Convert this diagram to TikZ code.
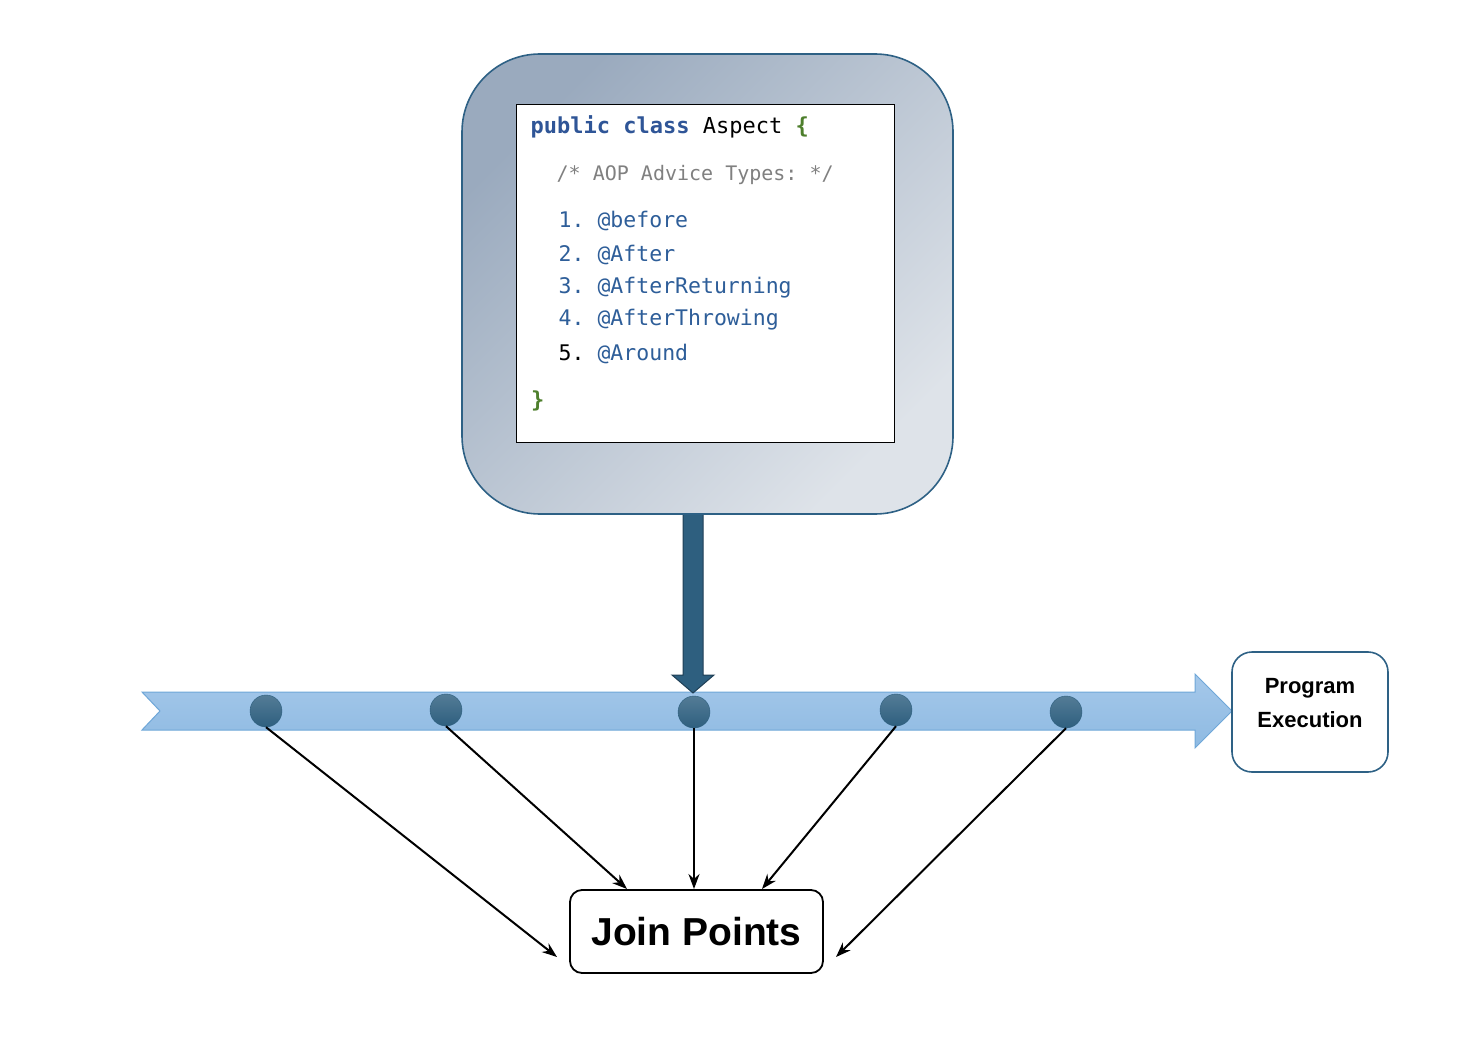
\documentclass[tikz,border=0pt]{standalone}
\usepackage{fontspec}
\setmainfont{Liberation Sans}
\setmonofont{DejaVu Sans Mono}
\usetikzlibrary{arrows.meta,positioning}

\definecolor{kwblue}{HTML}{2F5597}
\definecolor{lsblue}{HTML}{2E5E99}
\definecolor{brgreen}{HTML}{4E7F2C}
\definecolor{cmgray}{HTML}{808080}
\definecolor{navy}{HTML}{2E5F7F}
\definecolor{navyline}{HTML}{1F3F56}
\definecolor{frame}{HTML}{2E6185}
\definecolor{boxdark}{HTML}{9AAABE}
\definecolor{boxlight}{HTML}{DEE3E9}
\definecolor{bandtop}{HTML}{A5C8EA}
\definecolor{bandbot}{HTML}{8EBAE2}
\definecolor{bandline}{HTML}{6FA7D8}

\newcommand{\codesize}[1]{\fontsize{#1}{#1}\selectfont\ttfamily}

\begin{document}
\begin{tikzpicture}
	[
		x=1pt, y=-1pt,
		AB/.style = {rectangle, rounded corners=78pt, draw=frame, line width=1.6pt,
			top color=boxdark, bottom color=boxlight, shading angle=45,
			minimum width=491pt, minimum height=460pt},
		CB/.style = {rectangle, draw=black, line width=0.8pt, fill=white,
			minimum width=378pt, minimum height=338pt},
		C/.style = {anchor=base west, inner sep=0pt, font=\codesize{21.5}, text=lsblue},
		D/.style = {circle, inner sep=0pt, minimum size=32pt, draw=navy, line width=0.4pt,
			top color=navy!82!white, bottom color=navy},
		PE/.style = {rectangle, rounded corners=20pt, draw=frame, line width=1.6pt, fill=white,
			minimum width=156pt, minimum height=120pt},
		PT/.style = {align=center, inner sep=0pt, font=\fontsize{22}{34}\selectfont\bfseries},
		JP/.style = {rectangle, rounded corners=12pt, draw=black, line width=1.8pt, fill=white,
			minimum width=253pt, minimum height=83pt, font=\fontsize{39}{39}\selectfont\bfseries},
		JA/.style = {line width=2pt, -{Stealth[length=15pt,width=11pt]}},
	]

	\useasboundingbox (0,0) rectangle (1474,1040);

	% program execution band
	\shade[top color=bandtop, bottom color=bandbot, draw=bandline, line width=1pt]
		(142,692) -- (1195,692) -- (1195,674) -- (1232,711) -- (1195,748)
		-- (1195,730) -- (142,730) -- (160,711) -- cycle;

	% aspect weaving arrow
	\draw[fill=navy, draw=navyline, line width=1pt]
		(683,510) -- (683,675) -- (672,675) -- (693,693) -- (714,675) -- (703,675) -- (703,510) -- cycle;

	% aspect container
	\node[AB] (aspect) at (707.5,284) {};
	\node[CB] (code) at (705,273) {};

	% code lines
	\node[C, font=\codesize{22}, text=black] (cl0) at (530.5,134)
		{\textcolor{kwblue}{\bfseries public class} Aspect \textcolor{brgreen}{\bfseries\{}};
	\node[C, font=\codesize{20}, text=cmgray] (cm) at (556.5,181) {/* AOP Advice Types: */};
	\node[C] (cl1) at (558.5,228) {1. @before};
	\node[C] (cl2) at (558.5,262) {2. @After};
	\node[C] (cl3) at (558.5,294) {3. @AfterReturning};
	\node[C] (cl4) at (558.5,326) {4. @AfterThrowing};
	\node[C] (cl5) at (558.5,360) {\textcolor{black}{5.} @Around};
	\node[C, font=\codesize{22}, text=brgreen] (cl6) at (531,407) {\bfseries\}};

	% join point dots
	\node[D] (d1) at (266,711) {};
	\node[D] (d2) at (446,710) {};
	\node[D] (d3) at (694,712) {};
	\node[D] (d4) at (896,710) {};
	\node[D] (d5) at (1066,712) {};

	% boxes
	\node[PE] (prog) at (1310,712) {};
	\node[PT] (progtxt) at (1310,703) {Program\\Execution};
	\node[JP] (jp) at (696.5,931.5) {Join Points};

	% arrow ends at join points box
	\coordinate (jpa) at (557,957);
	\coordinate (jpb) at (627,889);
	\coordinate (jpc) at (694,889);
	\coordinate (jpd) at (762,889);
	\coordinate (jpe) at (836,957);

	\foreach \from/\to in {d1/jpa,d2/jpb,d3/jpc,d4/jpd,d5/jpe}
	\draw[JA] (\from.south) -- (\to);

\end{tikzpicture}
\end{document}
